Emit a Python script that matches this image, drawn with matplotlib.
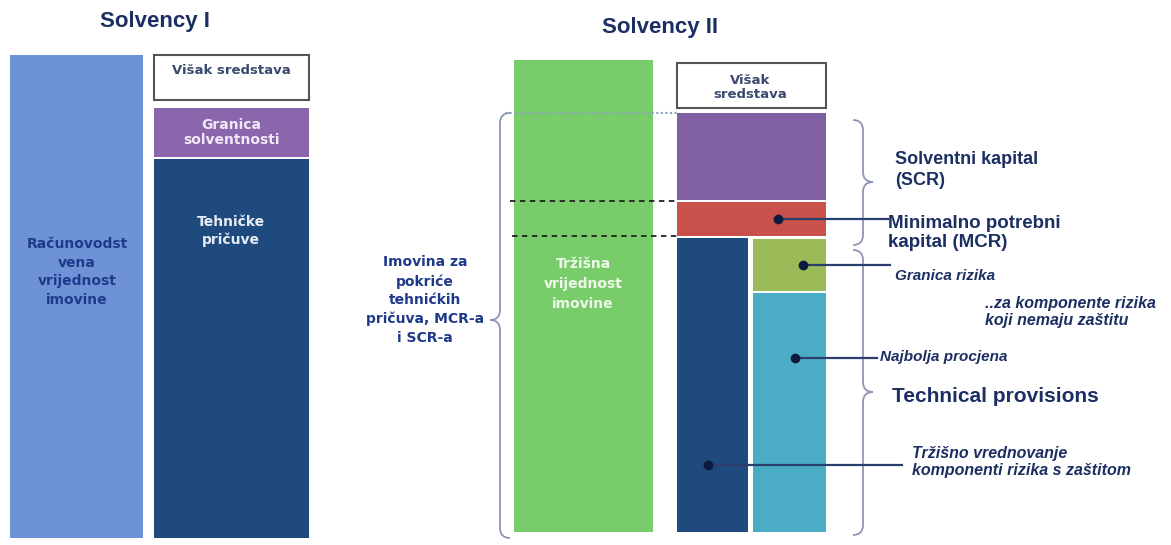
"""
Solvency I vs Solvency II balance sheet comparison
"""

import numpy as np
from matplotlib import pyplot
from matplotlib.path import Path
from matplotlib.patches import PathPatch

# block sizes (same arbitrary units for both regimes)
s1_labels = ["Računovodst\nvena\nvrijednost\nimovine", "Tehničke\npričuve",
             "Granica\nsolventnosti", "Višak sredstava"]
s1_values = [483, 379, 49, 45]

s2_labels = ["Tržišna\nvrijednost\nimovine", "hedgeable", "Najbolja procjena",
             "Granica rizika", "MCR", "SCR", "Višak\nsredstava"]
s2_values = [472, 294, 239, 52, 34, 87, 45]

NAVY_TXT = "#1c2f63"
FONT = "Liberation Sans"
WIDE = "DejaVu Sans"


def brace(axes, x_spine, y0, y1, y_tip, x_tip, x_end, color="#8e96b3"):
    """curly brace drawn with quadratic curves"""
    r = 10
    verts = [(x_end, y0), (x_spine, y0), (x_spine, y0 - r),
             (x_spine, y_tip + r), (x_spine, y_tip), (x_tip, y_tip),
             (x_spine, y_tip), (x_spine, y_tip - r),
             (x_spine, y1 + r), (x_spine, y1), (x_end, y1)]
    codes = [Path.MOVETO, Path.CURVE3, Path.CURVE3,
             Path.LINETO, Path.CURVE3, Path.CURVE3,
             Path.CURVE3, Path.CURVE3,
             Path.LINETO, Path.CURVE3, Path.CURVE3]
    axes.add_patch(PathPatch(Path(verts, codes), fc="none", ec=color, lw=1.3))


def leader(axes, x0, y, x1):
    axes.plot([x0, x1], [y, y], color="#2b3f6e", lw=1.6)
    axes.plot([x0], [y], "o", color="#0d1a3d", ms=6)


fig = pyplot.figure(figsize=(11.71, 5.45), dpi=100)
ax = fig.add_axes([0, 0, 1, 1])
ax.set_xlim(0, 1171)
ax.set_ylim(-7, 538)
ax.axis("off")

# ---- Solvency I
a, tp, gm, sur = s1_values
ax.bar(10, a, width=133, bottom=0, align="edge", color="#6d93d6")
ax.bar(154, tp, width=155, bottom=0, align="edge", color="#1f4a7d")
ax.bar(154, gm, width=155, bottom=tp + 2, align="edge", color="#8a66ad")
ax.bar(154, sur, width=155, bottom=tp + gm + 10, align="edge",
       color="white", edgecolor="#555555", lw=1.5)

ax.text(155, 516, "Solvency I", ha="center", va="center", fontsize=16,
        fontweight="bold", color=NAVY_TXT, family=FONT)
ax.text(77, 266, s1_labels[0], ha="center", va="center", fontsize=10,
        fontweight="bold", color="#1f3a8a", family=WIDE, linespacing=1.4)
ax.text(231, 307, s1_labels[1], ha="center", va="center", fontsize=10,
        fontweight="bold", color="#e6ecf5", family=WIDE, linespacing=1.3)
ax.text(231, tp + 2 + gm / 2, s1_labels[2], ha="center", va="center",
        fontsize=10, fontweight="bold", color="#f1e9f7", family=WIDE,
        linespacing=1.15)
ax.text(231, tp + gm + 10 + sur - 15, s1_labels[3], ha="center", va="center",
        fontsize=9.5, fontweight="bold", color="#3a4a70", family=WIDE)

# ---- Solvency II
base = 6
a2, hedge, be, rm, mcr, scr, sur2 = s2_values
ax.bar(514, a2, width=139, bottom=base, align="edge", color="#78cc6a")
ax.bar(677, hedge, width=71, bottom=base, align="edge", color="#1f4a7d")
ax.bar(753, be, width=73, bottom=base, align="edge", color="#4bacc6")
ax.bar(753, rm, width=73, bottom=base + be + 2, align="edge", color="#9bbb59")
y_mcr = base + hedge + 2
ax.bar(677, mcr, width=149, bottom=y_mcr, align="edge", color="#c9504b")
y_scr = y_mcr + mcr + 2
ax.bar(677, scr, width=149, bottom=y_scr, align="edge", color="#7f60a3")
y_sur = y_scr + scr + 5
ax.bar(677, sur2, width=149, bottom=y_sur, align="edge",
       color="white", edgecolor="#555555", lw=1.5)

# dotted/dashed guide lines across the asset bar
ax.plot([505, 677], [y_scr + scr, y_scr + scr], ls=(0, (1, 1.2)),
        color="#8fa3c0", lw=1.5)
ax.plot([510, 677], [y_scr - 1, y_scr - 1], ls=(0, (3, 2.5)),
        color="#222222", lw=1.3)
ax.plot([512, 677], [y_mcr, y_mcr], ls=(0, (3, 2.5)),
        color="#222222", lw=1.3)

ax.text(660, 510, "Solvency II", ha="center", va="center", fontsize=16,
        fontweight="bold", color=NAVY_TXT, family=FONT)
ax.text(583, 254, s2_labels[0], ha="center", va="center", fontsize=10,
        fontweight="bold", color="#eef8ea", family=WIDE, linespacing=1.55)
ax.text(750, y_sur + sur2 / 2 - 2, s2_labels[6], ha="center", va="center",
        fontsize=9.5, fontweight="bold", color="#3a4a70", family=WIDE,
        linespacing=1.1)
ax.text(425, 238, "Imovina za\npokriće\ntehnićkih\npričuva, MCR-a\ni SCR-a",
        ha="center", va="center", fontsize=10, fontweight="bold",
        color="#1f3a8a", family=WIDE, linespacing=1.4)

# braces
brace(ax, 500, y_scr + scr, 0, 218, 490, 510)
brace(ax, 863, 418, 293, 356, 873, 853)
brace(ax, 863, 288, 3, 146, 873, 853)

# leader lines to annotations
leader(ax, 778, y_mcr + mcr / 2, 888)
leader(ax, 803, base + be + 2 + rm / 2, 890)
leader(ax, 795, 180, 877)
leader(ax, 708, 73, 902)

ax.text(895, 368, "Solventni kapital\n(SCR)", ha="left", va="center",
        fontsize=13, fontweight="bold", color=NAVY_TXT, family=FONT,
        linespacing=1.25)
ax.text(888, 305, "Minimalno potrebni\nkapital (MCR)", ha="left",
        va="center", fontsize=13.5, fontweight="bold", color=NAVY_TXT,
        family=FONT, linespacing=1.2)
ax.text(895, 262, s2_labels[3], ha="left", va="center", fontsize=11,
        style="italic", fontweight="bold", color=NAVY_TXT, family=FONT)
ax.text(985, 226, "..za komponente rizika\nkoji nemaju zaštitu", ha="left",
        va="center", fontsize=11.5, style="italic", fontweight="bold",
        color=NAVY_TXT, family=FONT, linespacing=1.2)
ax.text(880, 181, s2_labels[2], ha="left", va="center", fontsize=11,
        style="italic", fontweight="bold", color=NAVY_TXT, family=FONT)
ax.text(892, 142, "Technical provisions", ha="left", va="center",
        fontsize=15, fontweight="bold", color=NAVY_TXT, family=FONT)
ax.text(912, 76, "Tržišno vrednovanje\nkomponenti rizika s zaštitom",
        ha="left", va="center", fontsize=11.5, style="italic",
        fontweight="bold", color=NAVY_TXT, family=FONT, linespacing=1.2)

fig.savefig("out.png", dpi=100)
